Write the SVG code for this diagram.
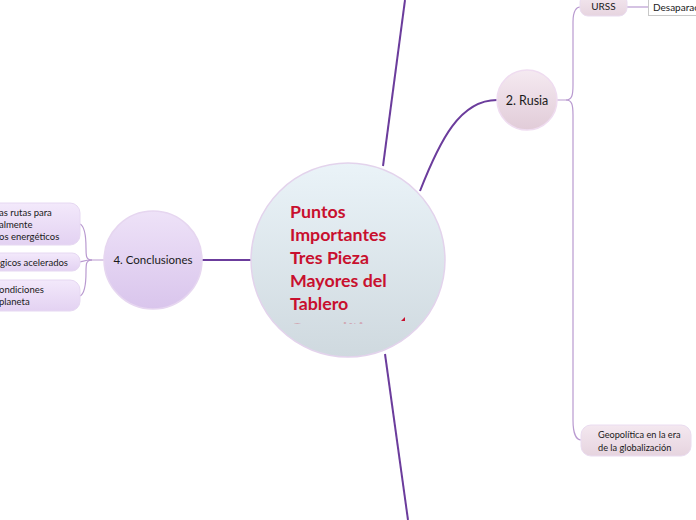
<svg xmlns="http://www.w3.org/2000/svg" width="696" height="520" viewBox="0 0 696 520">
<defs>
<linearGradient id="gC" x1="0" y1="0" x2="0" y2="1"><stop offset="0" stop-color="#eaf3f8"/><stop offset="1" stop-color="#cfd9df"/></linearGradient>
<linearGradient id="gR" x1="0" y1="0" x2="0" y2="1"><stop offset="0" stop-color="#f5eaf1"/><stop offset="1" stop-color="#e1ccd8"/></linearGradient>
<linearGradient id="gL" x1="0" y1="0" x2="0" y2="1"><stop offset="0" stop-color="#eee2f8"/><stop offset="1" stop-color="#d9c5ec"/></linearGradient>
<linearGradient id="gP" x1="0" y1="0" x2="0" y2="1"><stop offset="0" stop-color="#f4e8f0"/><stop offset="1" stop-color="#e6d4df"/></linearGradient>
<linearGradient id="gF" x1="0" y1="0" x2="0" y2="1"><stop offset="0" stop-color="#f3e9fb"/><stop offset="1" stop-color="#e3d2f2"/></linearGradient>
<clipPath id="clipT"><rect x="280" y="190" width="140" height="134"/></clipPath>
</defs>
<style>
.main{fill:none;stroke:#6b3c9c;stroke-width:2}
.sub{fill:none;stroke:#b99ad0;stroke-width:1.2}
.lbl{font-family:Lato,"Open Sans",sans-serif;fill:#1a1a1a}
.ctr{font-family:Lato,"Open Sans",sans-serif;font-weight:bold;font-size:17.8px;fill:#c8102e}
</style>
<g id="connectors">
<path class="main" d="M383,166 L405,0"/>
<path class="main" d="M385,354 L408,520"/>
<path class="main" d="M420,191 C440,140 460,100 497,100"/>
<path class="main" d="M251,260 L201,260"/>
<path class="sub" d="M557,100 L566,100 C572,100 573,95 573,85 L573,22 C573,10 577,7 580,7"/>
<path class="sub" d="M566,100 C572,100 573,105 573,115 L573,420 C573,435 577,440 581,440"/>
<path class="sub" d="M627,7 L648,7"/>
<path class="sub" d="M104,260 L92,260 C86,260 86,256 86,248 C86,236 84,226 80,224"/>
<path class="sub" d="M92,260 C86,260 84,261 80,262"/>
<path class="sub" d="M92,260 C86,260 86,264 86,272 C86,284 84,294 80,296"/>
</g>
<g id="central">
<circle cx="348" cy="260" r="97" fill="url(#gC)" stroke="#e3d3ec" stroke-width="1.5"/>
<g clip-path="url(#clipT)">
<text class="ctr"><tspan x="290" y="218">Puntos</tspan><tspan x="290" y="241">Importantes</tspan><tspan x="290" y="264">Tres Pieza</tspan><tspan x="290" y="287">Mayores del</tspan><tspan x="290" y="310">Tablero</tspan><tspan x="290" y="335" fill-opacity="0.25">Geopolítico</tspan></text>
</g>
<path d="M405,317 L405,321 L401,321 Z" fill="#c8102e"/>
</g>
<g id="rusia">
<circle cx="527" cy="100" r="30" fill="url(#gR)" stroke="#efdcf0" stroke-width="1.5"/>
<text class="lbl" x="527" y="105" font-size="12.5" text-anchor="middle">2. Rusia</text>
</g>
<g id="urss">
<rect x="580" y="-6" width="47" height="22" rx="8" fill="url(#gP)" stroke="#eadcf0"/>
<text class="lbl" x="603.5" y="10" font-size="10" text-anchor="middle">URSS</text>
</g>
<g id="desaparicion">
<rect x="648.5" y="-2" width="52" height="17.5" fill="#ffffff" stroke="#c8c8c8"/>
<text class="lbl" x="653" y="11" font-size="10">Desaparaci</text>
</g>
<g id="geopolitica">
<rect x="581" y="425" width="110" height="31" rx="10" fill="url(#gP)" stroke="#eadcf0"/>
<text class="lbl" font-size="9.2"><tspan x="598" y="438">Geopolítica en la era</tspan><tspan x="598" y="451">de la globalización</tspan></text>
</g>
<g id="conclusiones">
<circle cx="153" cy="260" r="49" fill="url(#gL)" stroke="#e6d6f0" stroke-width="1.5"/>
<text class="lbl" x="153" y="264" font-size="11.5" text-anchor="middle">4. Conclusiones</text>
</g>
<g id="c1">
<rect x="-20" y="203" width="100" height="42" rx="10" fill="url(#gF)" stroke="#e6d8f2"/>
<text class="lbl" font-size="9.5"><tspan x="-1" y="216">as rutas para</tspan><tspan x="-1" y="228">almente</tspan><tspan x="-1" y="240">os energéticos</tspan></text>
</g>
<g id="c2">
<rect x="-20" y="253" width="100" height="18" rx="8" fill="url(#gF)" stroke="#e6d8f2"/>
<text class="lbl" x="0" y="266" font-size="9.5">gicos acelerados</text>
</g>
<g id="c3">
<rect x="-20" y="280" width="100" height="31" rx="10" fill="url(#gF)" stroke="#e6d8f2"/>
<text class="lbl" font-size="9.5"><tspan x="-1" y="293">ondiciones</tspan><tspan x="-1" y="305">planeta</tspan></text>
</g>
</svg>
